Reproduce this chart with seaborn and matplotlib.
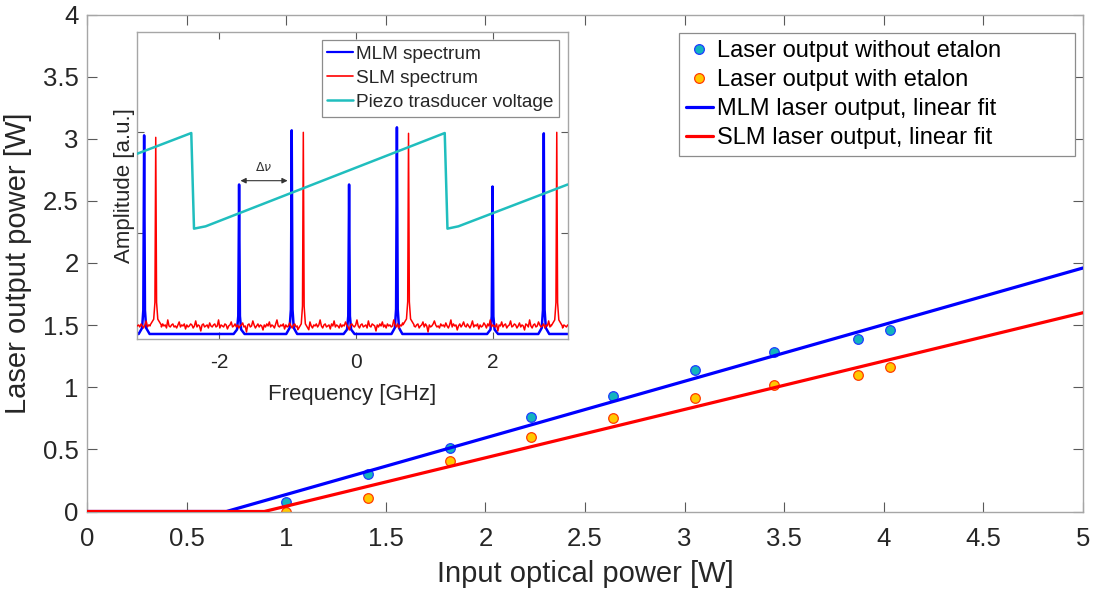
import numpy as np
import pandas as pd
import matplotlib
matplotlib.use("Agg")
import matplotlib.pyplot as plt
import seaborn as sns
from matplotlib.lines import Line2D

# ---------------- data: main plot ----------------
input_power = [1.00, 1.41, 1.82, 2.23, 2.64, 3.05, 3.45, 3.87, 4.03]
out_no_etalon = [0.08, 0.30, 0.51, 0.76, 0.93, 1.14, 1.28, 1.39, 1.46]
out_etalon = [0.00, 0.11, 0.41, 0.60, 0.75, 0.91, 1.02, 1.10, 1.16]
mlm_fit_x = [0.0, 0.70, 5.0]
mlm_fit_y = [0.0, 0.0, 1.96]
slm_fit_x = [0.0, 0.89, 5.0]
slm_fit_y = [0.0, 0.0, 1.60]
main_xticks = [0, 0.5, 1, 1.5, 2, 2.5, 3, 3.5, 4, 4.5, 5]
main_xticklabels = ["0", "0.5", "1", "1.5", "2", "2.5", "3", "3.5", "4", "4.5", "5"]
main_yticks = [0, 0.5, 1, 1.5, 2, 2.5, 3, 3.5, 4]
main_yticklabels = ["0", "0.5", "1", "1.5", "2", "2.5", "3", "3.5", "4"]

# ---------------- data: inset ----------------
mlm_peak_freq = [-3.10, -1.71, -0.94, -0.10, 0.60, 2.00, 2.75]
mlm_peak_amp = [1.97, 1.48, 2.02, 1.48, 2.05, 1.46, 1.99]
mlm_base = -0.01
slm_peak_freq = [-2.93, -0.77, 0.77, 2.94]
slm_peak_amp = [1.95, 2.00, 1.99, 2.00]
# SLM noisy baseline (hundredths of a.u.), read left to right
slm_noise = [
    7, 8, 6, 9, 7, 5, 8, 12, 6, 8, 7, 9, 5, 8, 6, 10, 7, 3, 8, 6,
    9, 7, 8, 5, 13, 7, 6, 8, 9, 6, 7, 5, 8, 11, 6, 8, 7, 9, 4, 8,
    6, 7, 9, 8, 5, 7, 12, 6, 8, 7, 2, 8, 9, 6, 7, 8, 5, 10, 7, 6,
    8, 9, 6, 7, 13, 5, 8, 7, 6, 9, 8, 4, 7, 8, 11, 6, 7, 9, 6, 8,
    5, 7, 8, 10, 6, 7, 1, 8, 9, 6, 7, 12, 8, 5, 7, 9, 6, 8, 7, 3,
    8, 6, 9, 7, 11, 6, 8, 7, 5, 9, 13, 7, 6, 8, 7, 9, 4, 8, 6, 7,
    10, 7, 5, 8, 9, 6, 7, 12, 8, 6, 7, 2, 9, 7, 8, 6, 11, 7, 5, 8,
    7, 9, 6, 8, 13, 7, 5, 8, 9, 6, 7, 8, 4, 9, 7, 12, 6, 8, 7, 5,
    9, 6, 8, 7, 11, 8, 6, 3, 8, 9, 7, 6, 8, 13, 7, 5, 8, 9, 6, 7,
    8, 5, 12, 7, 6, 9, 8, 7, 2, 8, 6, 9, 7, 11, 6, 8, 5, 9, 7, 8,
    6, 7, 13, 8, 6, 9, 5, 8, 7, 10, 6, 8, 4, 7, 9, 6, 8, 12, 7, 6,
    8, 9, 5, 7, 8, 11, 6, 9, 7, 1, 8, 6, 7, 9, 12, 8, 6, 7, 5, 9,
    7, 8, 6, 10, 7, 5, 8, 13, 6, 9, 7, 8, 3, 7, 9, 6, 8, 11, 7, 6,
    9, 7, 5, 8, 12, 6, 8, 7, 9, 4, 8, 6, 7, 10, 8, 5, 9, 7, 13, 6,
    8, 7, 6, 9, 2, 8, 7, 11, 6, 8, 9, 5, 7, 8, 12, 6, 7, 9, 8, 5,
    7, 10, 6, 8, 7, 3, 9, 8, 6, 13, 7, 5, 8, 9, 6, 7, 11, 8, 6, 7,
    9, 5, 8, 7, 12, 6, 8, 9, 4, 7, 8, 6, 10, 7, 9, 5, 8, 7, 6, 8,
]
piezo_freq = [-3.20, -2.41, -2.37, -2.20, 1.30, 1.34, 1.50, 3.10]
piezo_volt = [1.787, 1.993, 1.04, 1.063, 1.993, 1.04, 1.063, 1.48]
inset_xlim = (-3.2, 3.1)
inset_ylim = (-0.06, 3.0)
inset_xticks = [-2, 0, 2]
inset_xticklabels = ["-2", "0", "2"]
delta_nu_from, delta_nu_to, delta_nu_level = -1.69, -1.00, 1.518

# ---------------- style ----------------
sns.set_theme(style="white")
plt.rcParams["font.family"] = ["Liberation Sans", "DejaVu Sans"]
plt.rcParams["axes.unicode_minus"] = False
TXT = "#262626"
SPINE = "#a6a6a6"
TICK = "#5a5a5a"

BLUE = "#0000FF"
RED = "#FF0000"
CYAN = "#20BEBE"

fig = plt.figure(figsize=(10.93, 5.90), dpi=100)
W, H = 1093.0, 590.0
ax = fig.add_axes([87 / W, 1 - 511.5 / H, 996 / W, 497 / H])

# scatter points (drawn first, lines on top)
sns.scatterplot(x=input_power, y=out_no_etalon, ax=ax, s=48, color="#12B4BE",
                edgecolor="#1E3CFF", linewidth=0.9, zorder=2, legend=False)
sns.scatterplot(x=input_power, y=out_etalon, ax=ax, s=48, color="#FFC800",
                edgecolor="#FF3C00", linewidth=0.9, zorder=2, legend=False)
sns.lineplot(x=mlm_fit_x, y=mlm_fit_y, ax=ax, color=BLUE, lw=2.3, zorder=3,
             sort=False, estimator=None)
sns.lineplot(x=slm_fit_x, y=slm_fit_y, ax=ax, color=RED, lw=2.3, zorder=3,
             sort=False, estimator=None)

ax.set_xlim(0, 5)
ax.set_ylim(0, 4)
ax.set_xticks(main_xticks)
ax.set_xticklabels(main_xticklabels)
ax.set_yticks(main_yticks)
ax.set_yticklabels(main_yticklabels)
ax.tick_params(direction="in", length=7, width=0.8, color=TICK, top=True, right=True,
               bottom=True, left=True, labelsize=18.5, labelcolor=TXT)
ax.tick_params(axis="x", pad=11)
ax.tick_params(axis="y", pad=6)
for sp in ax.spines.values():
    sp.set_color(SPINE)
    sp.set_linewidth(1.0)
ax.set_xlabel("Input optical power [W]", fontsize=21, color=TXT, labelpad=7)
ax.set_ylabel("Laser output power [W]", fontsize=21, color=TXT, labelpad=8)

handles = [
    Line2D([], [], ls="", marker="o", ms=7, mfc="#12B4BE", mec="#1E3CFF", mew=0.9),
    Line2D([], [], ls="", marker="o", ms=7, mfc="#FFC800", mec="#FF3C00", mew=0.9),
    Line2D([], [], color=BLUE, lw=2.3),
    Line2D([], [], color=RED, lw=2.3),
]
labels = ["Laser output without etalon", "Laser output with etalon",
          "MLM laser output, linear fit", "SLM laser output, linear fit"]
leg = ax.legend(handles, labels, loc="upper left", mode="expand",
                bbox_to_anchor=(0.594, 0.0, 0.398, 0.963),
                borderaxespad=0, fontsize=17, handlelength=1.15, handletextpad=0.18,
                labelspacing=0.3, borderpad=0.3, fancybox=False, framealpha=1,
                edgecolor="#8c8c8c")
leg.get_frame().set_linewidth(0.9)
for t in leg.get_texts():
    t.set_color("black")

# ---------------- inset ----------------
ax_in = fig.add_axes([137.3 / W, 1 - 339 / H, 430.4 / W, 307 / H])
ax_in.set_facecolor("white")

peak_dx = [-0.08, -0.03, -0.012, 0.0, 0.012, 0.03, 0.08]
peak_frac = [0.0, 0.03, 0.12, 1.0, 0.12, 0.03, 0.0]


def build_trace(base_x, base_y, freqs, amps, halfwin=0.08):
    xs, ys = [], []
    for bx, by in zip(base_x, base_y):
        if all(abs(bx - f) > halfwin for f in freqs):
            xs.append(bx)
            ys.append(by)
    for f, a in zip(freqs, amps):
        b = np.interp(f, base_x, base_y)
        for dx, fr in zip(peak_dx, peak_frac):
            xs.append(f + dx)
            ys.append(b + fr * (a - b))
    order = np.argsort(xs, kind="stable")
    return np.asarray(xs)[order], np.asarray(ys)[order]


mlm_x, mlm_y = build_trace([inset_xlim[0], inset_xlim[1]], [mlm_base, mlm_base],
                           mlm_peak_freq, mlm_peak_amp)
noise_x = np.linspace(inset_xlim[0], inset_xlim[1], len(slm_noise))
noise_y = np.asarray(slm_noise) / 100.0
slm_x, slm_y = build_trace(noise_x, noise_y, slm_peak_freq, slm_peak_amp)

sns.lineplot(x=mlm_x, y=mlm_y, ax=ax_in, color=BLUE, lw=1.8, sort=False,
             estimator=None, zorder=2)
sns.lineplot(x=slm_x, y=slm_y, ax=ax_in, color=RED, lw=1.1, sort=False,
             estimator=None, zorder=3)
sns.lineplot(x=piezo_freq, y=piezo_volt, ax=ax_in, color=CYAN, lw=1.8, sort=False,
             estimator=None, zorder=4)

ax_in.annotate("", xy=(delta_nu_from, delta_nu_level), xytext=(delta_nu_to, delta_nu_level),
               arrowprops=dict(arrowstyle="<|-|>", color="#333333", lw=0.8,
                               mutation_scale=8, shrinkA=0, shrinkB=0), zorder=5)
ax_in.text((delta_nu_from + delta_nu_to) / 2, delta_nu_level + 0.07, r"$\Delta\nu$",
           ha="center", va="bottom", fontsize=9, color="#333333")

ax_in.set_xlim(*inset_xlim)
ax_in.set_ylim(*inset_ylim)
ax_in.set_xticks(inset_xticks)
ax_in.set_xticklabels(inset_xticklabels)
ax_in.set_yticks([1, 2])
ax_in.set_yticklabels([])
ax_in.tick_params(direction="in", length=5, width=0.8, color=TICK, top=True, right=True,
                  bottom=True, left=True, labelsize=15, labelcolor=TXT, pad=10)
for sp in ax_in.spines.values():
    sp.set_color(SPINE)
    sp.set_linewidth(1.0)
ax_in.set_xlabel("Frequency [GHz]", fontsize=16, color=TXT, labelpad=9)
ax_in.set_ylabel("Amplitude [a.u.]", fontsize=16, color=TXT, labelpad=-8)

in_handles = [Line2D([], [], color=BLUE, lw=1.6), Line2D([], [], color=RED, lw=1.2),
              Line2D([], [], color=CYAN, lw=1.8)]
in_labels = ["MLM spectrum", "SLM spectrum", "Piezo trasducer voltage"]
leg2 = ax_in.legend(in_handles, in_labels, loc="upper right", bbox_to_anchor=(0.98, 0.974),
                    borderaxespad=0, fontsize=13.7, handlelength=1.35, handletextpad=0.15,
                    labelspacing=0.35, borderpad=0.3, fancybox=False, framealpha=1,
                    edgecolor="#8c8c8c")
leg2.get_frame().set_linewidth(0.9)

fig.savefig("out.png", dpi=100)
